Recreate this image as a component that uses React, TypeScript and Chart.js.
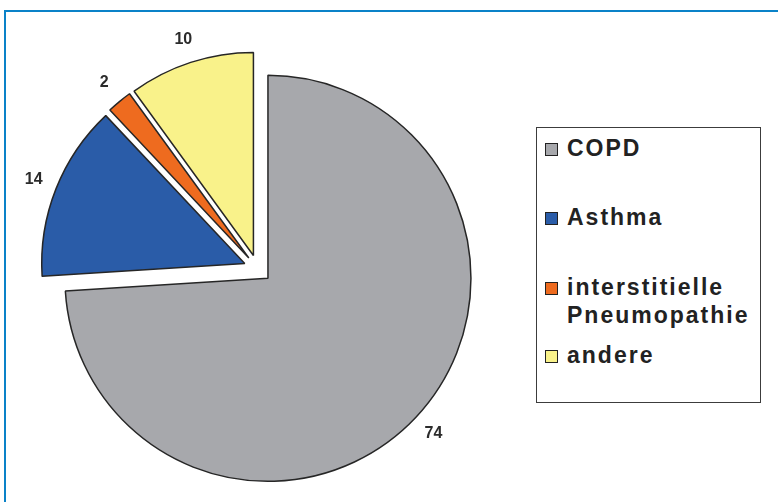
import React, { useEffect, useRef } from "react";
import { Chart, registerables } from "chart.js";

Chart.register(...registerables);

const categories = ["COPD", "Asthma", "interstitielle Pneumopathie", "andere"];
const legendLines = [["COPD"], ["Asthma"], ["interstitielle", "Pneumopathie"], ["andere"]];
const values = [74, 14, 2, 10];
const colors = ["#a7a8ac", "#2a5ca8", "#ee6b1f", "#f9f28a"];

const EXPLODE = 14;
const LABEL_GAP = 24;

const explodePlugin = {
  id: "explode",
  afterDatasetUpdate(chart: any, args: any) {
    const meta = args.meta;
    meta.data.forEach((el: any) => {
      const mid = (el.startAngle + el.endAngle) / 2;
      el.x += Math.cos(mid) * EXPLODE;
      el.y += Math.sin(mid) * EXPLODE;
    });
  },
};

const valueLabelPlugin = {
  id: "valueLabels",
  afterDatasetsDraw(chart: any) {
    const ctx = chart.ctx;
    const meta = chart.getDatasetMeta(0);
    const data = chart.data.datasets[0].data;
    ctx.save();
    ctx.font = "bold 16px 'Liberation Sans', Arial, sans-serif";
    ctx.fillStyle = "#2b2b2b";
    ctx.textAlign = "center";
    ctx.textBaseline = "middle";
    meta.data.forEach((el: any, i: number) => {
      const mid = (el.startAngle + el.endAngle) / 2;
      const r = el.outerRadius + LABEL_GAP;
      ctx.fillText(String(data[i]), el.x + Math.cos(mid) * r, el.y + Math.sin(mid) * r);
    });
    ctx.restore();
  },
};

const legendTops = [134, 203, 273, 341];

export default function App() {
  const canvasRef = useRef<HTMLCanvasElement | null>(null);

  useEffect(() => {
    if (!canvasRef.current) return;
    const chart = new Chart(canvasRef.current, {
      type: "pie",
      data: {
        labels: categories,
        datasets: [
          {
            data: values,
            backgroundColor: colors,
            borderColor: "#262626",
            borderWidth: 1.5,
          },
        ],
      },
      options: {
        animation: false,
        responsive: true,
        maintainAspectRatio: false,
        layout: { padding: { left: 54, top: 65, right: 316.5, bottom: 29.5 } },
        plugins: {
          legend: { display: false },
          tooltip: { enabled: false },
        },
        events: [],
      },
      plugins: [explodePlugin, valueLabelPlugin],
    });
    return () => chart.destroy();
  }, []);

  return (
    <div style={{ position: "relative", width: 778, height: 502, background: "#fff", overflow: "hidden" }}>
      <style>{"body{margin:0}"}</style>
      <div
        style={{
          position: "absolute",
          left: 4,
          top: 10,
          right: -4,
          bottom: -4,
          borderLeft: "2px solid #0a82c8",
          borderTop: "2px solid #0a82c8",
        }}
      />
      <div style={{ position: "absolute", left: 0, top: 0, width: 778, height: 502 }}>
        <canvas ref={canvasRef} />
      </div>
      <div
        style={{
          position: "absolute",
          left: 536,
          top: 127,
          width: 225,
          height: 276,
          boxSizing: "border-box",
          border: "1.5px solid #3c3c3c",
          background: "#fff",
        }}
      />
      {legendLines.map((lines, i) => (
        <div
          key={categories[i]}
          style={{
            position: "absolute",
            left: 545,
            top: legendTops[i],
            fontFamily: "'Liberation Sans', Arial, sans-serif",
            fontWeight: "bold",
            fontSize: 23,
            lineHeight: "28px",
            letterSpacing: 2,
            color: "#222",
          }}
        >
          <div
            style={{
              position: "absolute",
              left: 0,
              top: 9,
              width: 13,
              height: 13,
              boxSizing: "border-box",
              border: "1px solid #222",
              background: colors[i],
            }}
          />
          <div style={{ position: "absolute", left: 22, top: 0, whiteSpace: "nowrap" }}>
            {lines.map((t) => (
              <div key={t}>{t}</div>
            ))}
          </div>
        </div>
      ))}
    </div>
  );
}
